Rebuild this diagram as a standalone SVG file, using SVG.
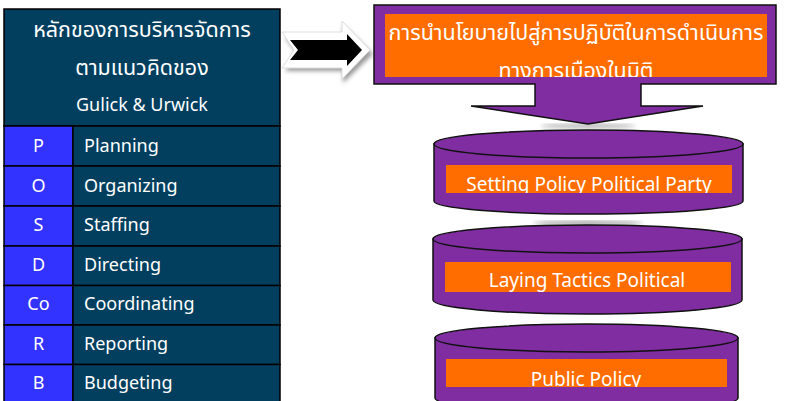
<svg xmlns="http://www.w3.org/2000/svg" width="799" height="401" viewBox="0 0 799 401">
<defs>
<style>
.cell{fill:#023F5F;stroke:#000;stroke-width:1.5}
.let{fill:#3333FF;stroke:#000;stroke-width:1.5}
.t{font-family:"Noto Sans","Open Sans",sans-serif;fill:#fff;font-size:18px}
.c{font-size:19px}
.th{font-family:"Noto Sans","Noto Sans Thai","Open Sans",sans-serif;fill:#fff;font-size:21.5px}
.pur{fill:#7F2DA1;stroke:#111;stroke-width:1.5}
.org{fill:#FF6D00}
</style>
<clipPath id="c0"><rect x="385" y="14" width="382" height="63"/></clipPath>
<clipPath id="c1"><rect x="446" y="165" width="286" height="28"/></clipPath>
<clipPath id="c2"><rect x="445" y="262" width="286" height="30"/></clipPath>
<clipPath id="c3"><rect x="446" y="359" width="281" height="28"/></clipPath>
<filter id="sh" x="-20%" y="-20%" width="140%" height="160%"><feGaussianBlur stdDeviation="2"/></filter>
</defs>

<g id="table">
<rect class="cell" x="4" y="9" width="276" height="117"/>
<text class="th" x="142" y="37" text-anchor="middle">หลักของการบริหารจัดการ</text>
<text class="th" x="142" y="75" text-anchor="middle">ตามแนวคิดของ</text>
<text class="t" x="142" y="111" text-anchor="middle" font-size="18.5">Gulick &amp; Urwick</text>
</g>
<g id="row-P"><rect class="let" x="4" y="126" width="69" height="40"/><rect class="cell" x="73" y="126" width="207" height="40"/><text class="t" x="38.5" y="152" text-anchor="middle">P</text><text class="t" x="84" y="152">Planning</text></g>
<g id="row-O"><rect class="let" x="4" y="166" width="69" height="40"/><rect class="cell" x="73" y="166" width="207" height="40"/><text class="t" x="38.5" y="192" text-anchor="middle">O</text><text class="t" x="84" y="192">Organizing</text></g>
<g id="row-S"><rect class="let" x="4" y="206" width="69" height="40"/><rect class="cell" x="73" y="206" width="207" height="40"/><text class="t" x="38.5" y="231" text-anchor="middle">S</text><text class="t" x="84" y="231">Staffing</text></g>
<g id="row-D"><rect class="let" x="4" y="246" width="69" height="39.5"/><rect class="cell" x="73" y="246" width="207" height="39.5"/><text class="t" x="38.5" y="271" text-anchor="middle">D</text><text class="t" x="84" y="271">Directing</text></g>
<g id="row-Co"><rect class="let" x="4" y="285.5" width="69" height="39.5"/><rect class="cell" x="73" y="285.5" width="207" height="39.5"/><text class="t" x="38.5" y="310" text-anchor="middle">Co</text><text class="t" x="84" y="310">Coordinating</text></g>
<g id="row-R"><rect class="let" x="4" y="325" width="69" height="39.5"/><rect class="cell" x="73" y="325" width="207" height="39.5"/><text class="t" x="38.5" y="350" text-anchor="middle">R</text><text class="t" x="84" y="350">Reporting</text></g>
<g id="row-B"><rect class="let" x="4" y="364.5" width="69" height="40"/><rect class="cell" x="73" y="364.5" width="207" height="40"/><text class="t" x="38.5" y="389" text-anchor="middle">B</text><text class="t" x="84" y="389">Budgeting</text></g>

<g id="connectors">
<g id="arrow-right">
<polygon points="284,34 342,34 342,22 372,51 342,80 342,68 284,68 296,51" fill="#999" filter="url(#sh)" transform="translate(1,3)"/>
<polygon points="282,32 342,32 342,21 370,50 342,79 342,68 282,68 294,50" fill="#fff" stroke="#ddd" stroke-width="1"/>
<polygon points="290,40 347,40 347,34 362,50 347,66 347,60 290,60 298,50" fill="#000"/>
</g>
</g>

<g id="title">
<ellipse cx="588" cy="126" rx="48" ry="2" fill="#aaa" filter="url(#sh)"/>
<path class="pur" d="M374,5 H776 V84 H641 V106 H703 L588,124 L471,106 H535 V84 H374 Z"/>
<rect class="org" x="385" y="14" width="382" height="63"/>
<g clip-path="url(#c0)">
<text class="th" x="576" y="40" text-anchor="middle" font-size="23">การนำนโยบายไปสู่การปฏิบัติในการดำเนินการ</text>
<text class="th" x="576" y="78" text-anchor="middle" font-size="23">ทางการเมืองในมิติ</text>
</g>
</g>

<g id="cyl-1">
<ellipse cx="588" cy="223" rx="55" ry="2" fill="#999" filter="url(#sh)"/>
<path class="pur" d="M434,144 V201 A154.5,13 0 0 0 743,201 V144 Z"/>
<ellipse class="pur" cx="588.5" cy="144" rx="154.5" ry="14"/>
<rect class="org" x="446" y="165" width="286" height="28"/>
<text class="t c" x="589" y="191" text-anchor="middle" clip-path="url(#c1)">Setting Policy Political Party</text>
</g>

<g id="cyl-2">
<path class="pur" d="M433,239 V300 A154.5,14 0 0 0 742,300 V239 Z"/>
<ellipse class="pur" cx="587.5" cy="239" rx="154.5" ry="14"/>
<rect class="org" x="445" y="262" width="286" height="30"/>
<text class="t c" x="587" y="287" text-anchor="middle" clip-path="url(#c2)">Laying Tactics Political</text>
</g>

<g id="cyl-3">
<path class="pur" d="M435,338 V398 A151.5,14 0 0 0 738,398 V338 Z"/>
<ellipse class="pur" cx="586.5" cy="338" rx="151.5" ry="14"/>
<rect class="org" x="446" y="359" width="281" height="28"/>
<text class="t c" x="586" y="386" text-anchor="middle" clip-path="url(#c3)">Public Policy</text>
</g>
</svg>
